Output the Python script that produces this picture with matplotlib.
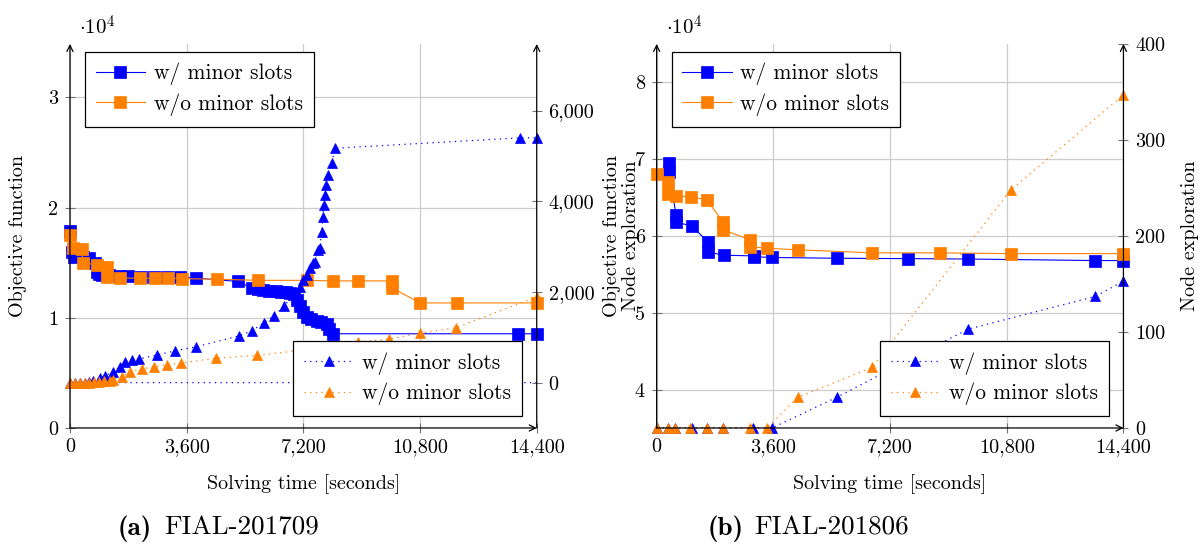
import matplotlib
matplotlib.use("Agg")
import matplotlib.pyplot as plt
from matplotlib.ticker import FixedLocator, FuncFormatter
import numpy as np

plt.rcParams['font.family'] = 'cmr10'
plt.rcParams['mathtext.fontset'] = 'cm'
plt.rcParams['axes.formatter.use_mathtext'] = True

BLUE = '#0000ff'
ORANGE = '#ff8000'
SCALE = 1e4

# ---- (a) FIAL-201709 ----
a_obj_w_t = [0, 60, 120, 400, 600, 770, 830, 900, 1000, 1200, 1500, 1800, 2200, 2600, 3000, 3400,
             3900, 5180, 5610, 5800, 5950, 6150, 6350, 6500, 6650, 6780, 6900, 7000, 7090, 7200,
             7310, 7450, 7620, 7750, 7930, 8000, 8110, 13820, 14400]
a_obj_w_v = [17900, 16000, 15500, 15500, 15400, 15000, 14200, 14000, 13900, 13850, 13800, 13750,
             13700, 13700, 13700, 13700, 13600, 13300, 12700, 12600, 12500, 12450, 12400, 12350,
             12300, 12250, 12200, 11600, 11100, 10500, 10100, 9900, 9700, 9600, 9400, 9000, 8550,
             8550, 8550]
a_obj_wo_t = [0, 90, 370, 400, 830, 1140, 1150, 1540, 2160, 2620, 3020, 3450, 4530, 5800, 7310,
              8110, 8880, 9930, 9940, 10800, 11940, 14400]
a_obj_wo_v = [17500, 16300, 16200, 15000, 14800, 14600, 13700, 13600, 13600, 13600, 13600, 13550,
              13500, 13400, 13400, 13350, 13350, 13350, 12700, 11350, 11350, 11350]
a_node_w_t = [14400, 0, 150, 300, 450, 600, 710, 925, 1080, 1330, 1540, 1700, 1910, 2130, 2680,
              3240, 3890, 5210, 5610, 5980, 6290, 6610, 7090, 7190, 7310, 7400, 7490, 7560, 7650,
              7700, 7770, 7800, 7830, 7860, 7900, 7960, 8080, 8170, 13880, 14400]
a_node_w_v = [0, 0, 0, 0, 0, 10, 40, 100, 150, 240, 350, 460, 500, 520, 610, 700, 790, 1030, 1140,
              1320, 1470, 1690, 2120, 2260, 2370, 2520, 2630, 2670, 2930, 2970, 3330, 3660, 3920,
              4140, 4360, 4580, 4840, 5170, 5400, 5400]
a_node_wo_t = [0, 150, 300, 450, 600, 750, 900, 1050, 1230, 1330, 1600, 1850, 2220, 2590, 2990,
               3420, 4500, 5770, 8020, 8880, 9840, 10790, 11900, 14400]
a_node_wo_v = [0, 0, 0, 0, 0, 10, 20, 30, 40, 60, 130, 240, 300, 350, 400, 430, 540, 600, 790, 900,
               960, 1090, 1210, 1890]

# ---- (b) FIAL-201806 ----
b_obj_w_t = [380, 380, 600, 600, 1090, 1580, 1580, 2080, 3000, 3000, 3560, 5560, 7750, 9610,
             13530, 14400]
b_obj_w_v = [69500, 68300, 62700, 61800, 61300, 59200, 57900, 57500, 57400, 57300, 57200, 57100,
             57050, 57000, 56800, 56800]
b_obj_wo_t = [0, 350, 350, 600, 1060, 1550, 2050, 2050, 2880, 2880, 3400, 4360, 6640, 8740, 10930,
              14400]
b_obj_wo_v = [68100, 67000, 65500, 65200, 65100, 64700, 61800, 60800, 59500, 58600, 58400, 58200,
              57800, 57800, 57700, 57700]
b_node_w_t = [0, 350, 560, 1090, 1550, 2040, 2970, 3560, 5560, 9610, 13530, 14400]
b_node_w_v = [0, 0, 0, 0, 0, 0, 0, 0, 32, 103, 137, 153]
b_node_wo_t = [0, 350, 560, 1030, 1550, 2040, 2880, 3400, 4360, 6640, 10930, 14400]
b_node_wo_v = [0, 0, 0, 0, 0, 0, 0, 0, 32, 63, 248, 347]

x_ticks = [0, 3600, 7200, 10800, 14400]
labels = ['w/ minor slots', 'w/o minor slots']


def comma(v, pos):
    return f"{v:,.0f}"


def panel(fig, left, obj, node, obj_lim, obj_ticks, node_lim, node_ticks, tag, name, node_left,
          cap_x):
    ax = fig.add_axes([left, 0.2176, 0.3877, 0.702])
    ax2 = ax.twinx()

    for a in (ax, ax2):
        for s in a.spines.values():
            s.set_visible(False)
        a.set_xlim(0, 14400)

    ax.set_ylim(*obj_lim)
    ax2.set_ylim(*node_lim)
    ax.xaxis.set_major_locator(FixedLocator(x_ticks))
    ax.xaxis.set_major_formatter(FuncFormatter(comma))
    ax.yaxis.set_major_locator(FixedLocator(obj_ticks))
    ax.yaxis.set_major_formatter(FuncFormatter(lambda v, p: f"{v:g}"))
    ax2.yaxis.set_major_locator(FixedLocator(node_ticks))
    ax2.yaxis.set_major_formatter(FuncFormatter(comma))
    ax.grid(True, color='0.8', lw=0.9)
    ax.set_axisbelow(True)
    ax.tick_params(direction='inout', length=7, width=0.8, color='0.45', labelsize=14.5, pad=4)
    ax.tick_params(axis='y', pad=5)
    ax2.tick_params(direction='inout', length=7, width=0.8, color='0.45', labelsize=14.5, pad=5)

    (wt, wv), (ot, ov) = obj
    h1, = ax.plot(wt, np.array(wv) / SCALE, color=BLUE, lw=0.8, marker='s', ms=9,
                  mec=BLUE, mew=0.5, clip_on=False, label=labels[0])
    h2, = ax.plot(ot, np.array(ov) / SCALE, color=ORANGE, lw=0.8, marker='s', ms=9,
                  mec=ORANGE, mew=0.5, clip_on=False, label=labels[1])
    (nwt, nwv), (not_, nov) = node
    # a leading (14400, 0) row only draws the dotted base line, no mark
    skip = 1 if nwt[0] > nwt[1] else 0
    h3, = ax2.plot(nwt, nwv, color=BLUE, lw=0.9, ls=(0, (1, 3.5)), marker='^', ms=7,
                   mec=BLUE, mew=0.5, clip_on=False, label=labels[0],
                   markevery=list(range(skip, len(nwt))))
    h4, = ax2.plot(not_, nov, color=ORANGE, lw=0.9, ls=(0, (1, 3.5)), marker='^', ms=7,
                   mec=ORANGE, mew=0.5, clip_on=False, label=labels[1])

    # axis lines with arrow heads
    arr = dict(arrowstyle='->', lw=0.9, color='black', shrinkA=0, shrinkB=0,
               mutation_scale=11)
    for start, end in [((0, 0), (0, 1)), ((0, 0), (1, 0)), ((1, 0), (1, 1))]:
        ax2.annotate('', xy=end, xytext=start, xycoords='axes fraction',
                     textcoords='axes fraction', arrowprops=arr, annotation_clip=False)

    leg_kw = dict(fontsize=15.5, frameon=True, fancybox=False, framealpha=1, edgecolor='black',
                  borderaxespad=0, handlelength=2.3, handletextpad=0.4, labelspacing=0.38,
                  borderpad=0.5, numpoints=1)
    l1 = ax2.legend([h1, h2], labels, loc='upper left', bbox_to_anchor=(0.032, 0.979), **leg_kw)
    l1.get_frame().set_linewidth(0.9)
    ax2.add_artist(l1)
    l2 = ax2.legend([h3, h4], labels, loc='lower right', bbox_to_anchor=(0.968, 0.031), **leg_kw)
    l2.get_frame().set_linewidth(0.9)

    ax.text(0.019, 1.045, r'$\cdot 10^4$', transform=ax.transAxes, fontsize=15,
            ha='left', va='center')
    ax.set_xlabel('Solving time [seconds]', fontsize=14.5, labelpad=13)

    if node_left:
        ax.text(-0.096, 0.5, 'Objective function', transform=ax.transAxes, rotation=90,
                ha='center', va='center', fontsize=14.5)
        ax.text(-0.055, 0.5, 'Node exploration', transform=ax.transAxes, rotation=90,
                ha='center', va='center', fontsize=14.5)
        ax.text(1.143, 0.5, 'Node exploration', transform=ax.transAxes, rotation=90,
                ha='center', va='center', fontsize=14.5)
    else:
        ax.text(-0.111, 0.5, 'Objective function', transform=ax.transAxes, rotation=90,
                ha='center', va='center', fontsize=14.5)

    # sub-caption: bold tag followed by the instance name
    fig.text(cap_x, 0.022, tag, family='cmb10', fontsize=19.5, ha='left', va='baseline')
    fig.text(cap_x + 0.038, 0.022, name, fontsize=19.5, ha='left', va='baseline')


fig = plt.figure(figsize=(12.04, 5.47), dpi=100)
panel(fig, 0.0581,
      [(a_obj_w_t, a_obj_w_v), (a_obj_wo_t, a_obj_wo_v)],
      [(a_node_w_t, a_node_w_v), (a_node_wo_t, a_node_wo_v)],
      (0, 3.485), [0, 1, 2, 3], (-1000, 7470), [0, 2000, 4000, 6000],
      '(a)', 'FIAL-201709', False, 0.098)
panel(fig, 0.5454,
      [(b_obj_w_t, b_obj_w_v), (b_obj_wo_t, b_obj_wo_v)],
      [(b_node_w_t, b_node_w_v), (b_node_wo_t, b_node_wo_v)],
      (3.5, 8.5), [4, 5, 6, 7, 8], (0, 400), [0, 100, 200, 300, 400],
      '(b)', 'FIAL-201806', True, 0.588)

fig.savefig('out.png', dpi=100)
